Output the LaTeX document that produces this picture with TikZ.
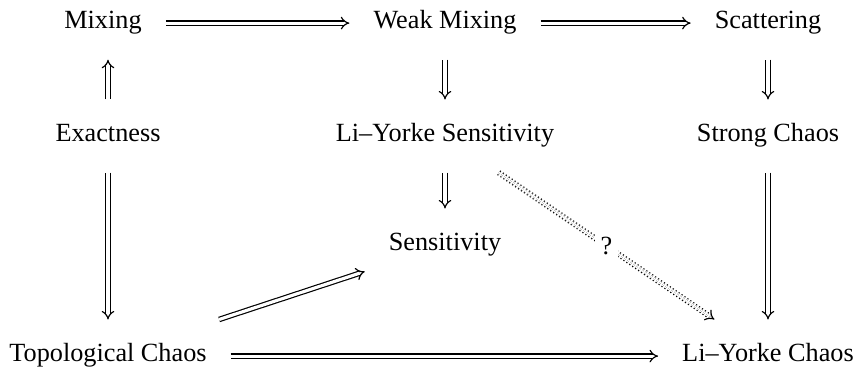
\documentclass[tikz,border=0pt]{standalone}
\usepackage{fontspec}
\setmainfont{Liberation Serif}
\usetikzlibrary{arrows, positioning}

\begin{document}
\begin{tikzpicture}[x=0.381pt, y=-0.381pt,
        term/.style={inner sep=9pt, text height=0.7em, text depth=0.25em, anchor=base},
        impl/.style={double, double distance=1.2pt, line width=0.45pt, -implies},
        guess/.style={impl, dash pattern=on 0.45pt off 0.9pt}]
        \useasboundingbox (0,0) rectangle (859,369);

        % Begrippen
        \node[term] (mix) at (103,29) {Mixing};
        \node[term] (wmix) at (445,29) {Weak Mixing};
        \node[term] (scat) at (768,29) {Scattering};
        \node[term] (exact) at (108,142) {Exactness};
        \node[term] (lysens) at (445,142) {Li--Yorke Sensitivity};
        \node[term] (strong) at (768,142) {Strong Chaos};
        \node[term] (sens) at (445,251) {Sensitivity};
        \node[term] (topo) at (108,362) {Topological Chaos};
        \node[term] (lychaos) at (768,362) {Li--Yorke Chaos};

        % Implicaties
        \draw[impl] (mix) -- (wmix);
        \draw[impl] (wmix) -- (scat);
        \draw[impl] (exact.north) -- (exact.north |- mix.south);
        \draw[impl] (wmix) -- (lysens);
        \draw[impl] (scat) -- (strong);
        \draw[impl] (lysens) -- (sens);
        \draw[impl] (exact) -- (topo);
        \draw[impl] (strong) -- (lychaos);
        \draw[impl] (topo) -- (sens);
        \draw[impl] (topo) -- (lychaos);

        % Open vraag
        \draw[guess] (lysens) -- (lychaos) node[midway, fill=white, inner sep=2pt] (open) {?};

    \end{tikzpicture}
\end{document}
